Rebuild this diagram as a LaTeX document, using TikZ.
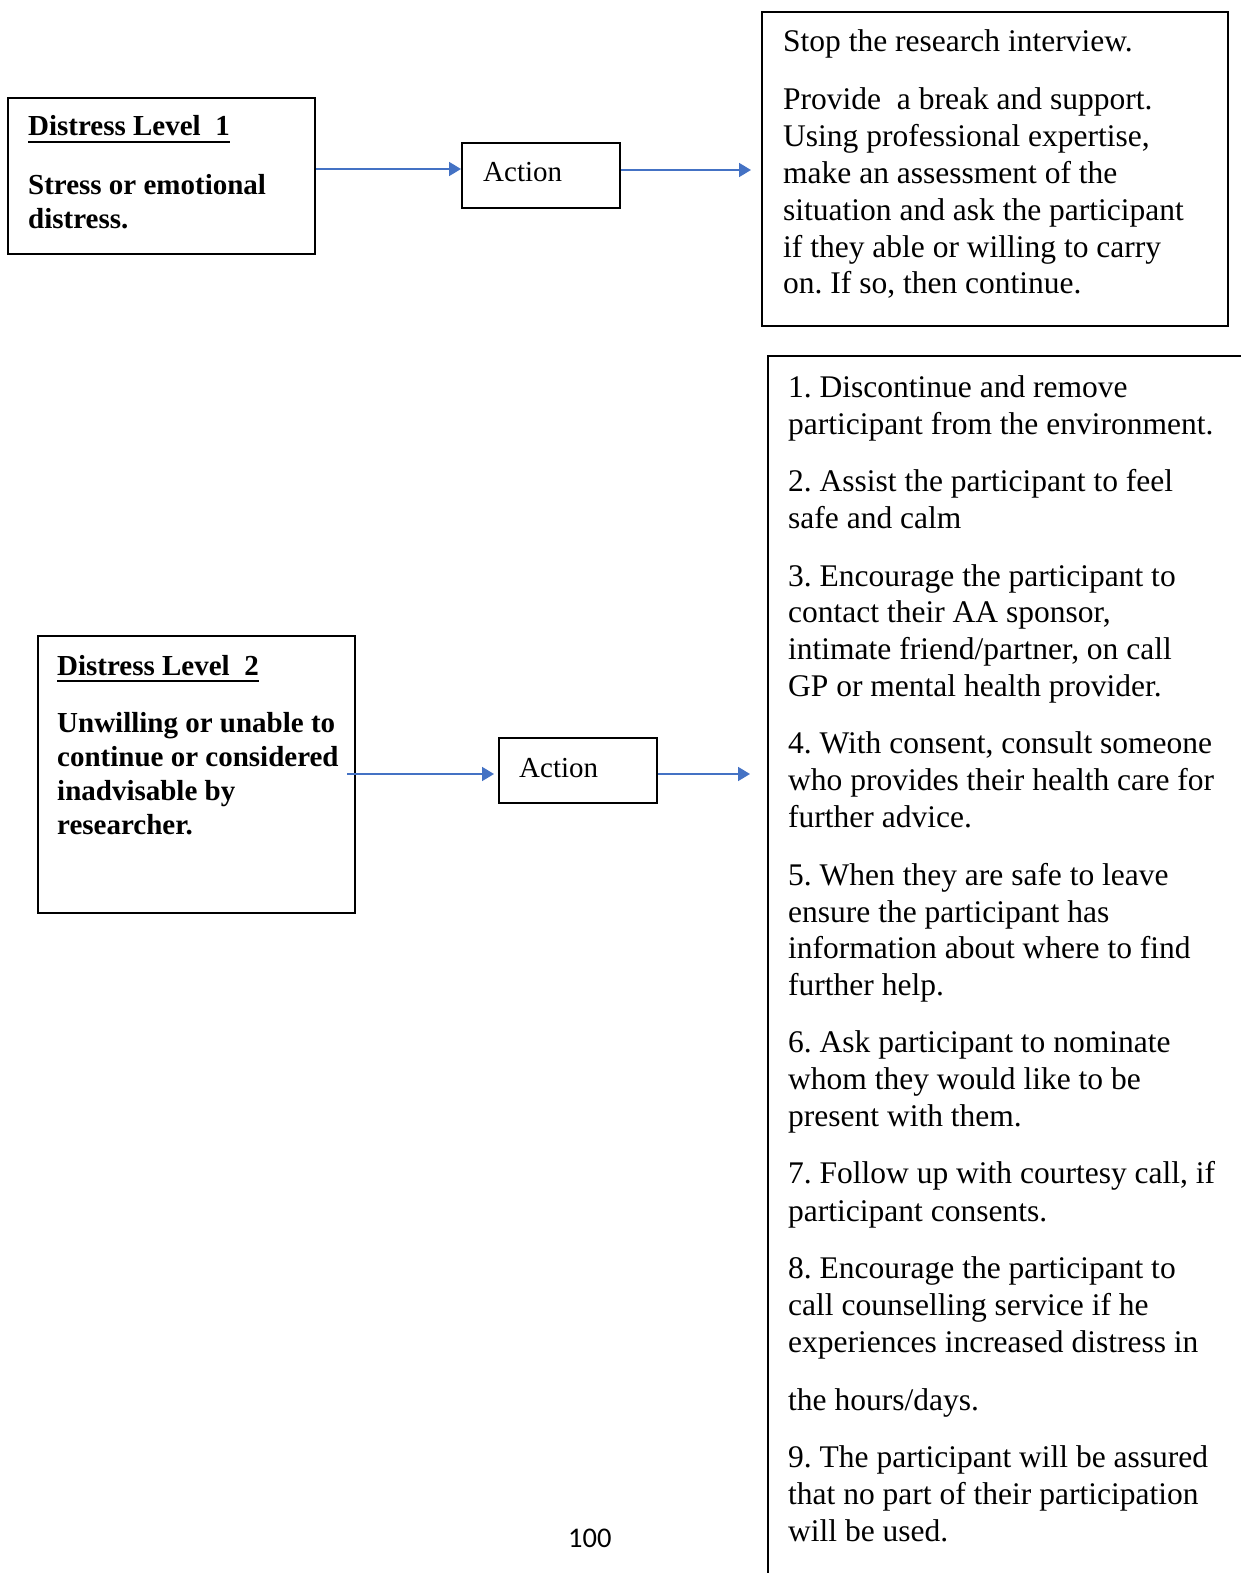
\documentclass[tikz,border=0pt]{standalone}
\usepackage{fontspec}
\setmainfont{Liberation Serif}
\newfontfamily\pnfont{Carlito}
\usetikzlibrary{arrows.meta,calc}
\definecolor{arrblue}{RGB}{68,114,196}
\frenchspacing
\begin{document}
\begin{tikzpicture}[x=1pt,y=-1pt,
  box/.style={draw=black,line width=2pt,inner sep=0pt,anchor=north west},
  txt/.style={inner sep=0pt,anchor=base west,font=\fontsize{31.5}{36.7}\selectfont\frenchspacing},
  btxt/.style={inner sep=0pt,anchor=base west,font=\fontsize{29}{34}\selectfont\bfseries\frenchspacing},
  atxt/.style={inner sep=0pt,anchor=base west,font=\fontsize{29}{34}\selectfont},
  arr/.style={draw=arrblue,line width=1.8pt,-{Triangle[length=12pt,width=14pt]}},
  uline/.style={line width=2.5pt}
]
\path[use as bounding box] (0,0) rectangle (1241,1573);
\clip (0,0) rectangle (1241,1573);
\fill[white] (0,0) rectangle (1241,1573);

% boxes
\node[box,minimum width=307,minimum height=156] (b1) at (7,97) {};
\node[box,minimum width=158,minimum height=65] (a1) at (461,142) {};
\node[box,minimum width=466,minimum height=314] (b3) at (761,11) {};
\node[box,minimum width=317,minimum height=277] (b4) at (37,635) {};
\node[box,minimum width=158,minimum height=65] (a2) at (498,737) {};
\node[box,minimum width=520,minimum height=1260] (b5) at (767,355) {};

% level 1
\node[btxt] (h1) at (28,136) {Distress Level~~1};
\draw[uline] ($(h1.base west)+(0,6)$) -- ($(h1.base east)+(0,6)$);
\node[btxt] (s1) at (28,194) {Stress or emotional};
\node[btxt] (s2) at (28,228) {distress.};
\node[atxt] (t1) at (483,182) {Action};

% top right
\node[txt] (c1) at (783,52) {Stop the research interview.};
\node[txt] (c2) at (783,110) {Provide\ \ a break and support.};
\node[txt] (c3) at (783,147) {Using professional expertise,};
\node[txt] (c4) at (783,183.5) {make an assessment of the};
\node[txt] (c5) at (783,220) {situation and ask the participant};
\node[txt] (c6) at (783,257) {if they able or willing to carry};
\node[txt] (c7) at (783,293.5) {on. If so, then continue.};

% level 2
\node[btxt] (h2) at (57,675) {Distress Level~~2};
\draw[uline] ($(h2.base west)+(0,6)$) -- ($(h2.base east)+(0,6)$);
\node[btxt] (u1) at (57,732) {Unwilling or unable to};
\node[btxt] (u2) at (57,766) {continue or considered};
\node[btxt] (u3) at (57,800) {inadvisable by};
\node[btxt] (u4) at (57,834) {researcher.};
\node[atxt] (t2) at (519,777) {Action};

% lower right list
\foreach \yy/\ttx [count=\i] in {
397/{1. Discontinue and remove},
434/{participant from the environment.},
491/{2. Assist the participant to feel},
528/{safe and calm},
586/{3. Encourage the participant to},
622/{contact their AA sponsor,},
659/{intimate friend/partner, on call},
696/{GP or mental health provider.},
753/{4. With consent, consult someone},
790/{who provides their health care for},
827/{further advice.},
885/{5. When they are safe to leave},
922/{ensure the participant has},
958/{information about where to find},
995/{further help.},
1052/{6. Ask participant to nominate},
1089/{whom they would like to be},
1126/{present with them.},
1183/{7. Follow up with courtesy call, if},
1221/{participant consents.},
1278/{8. Encourage the participant to},
1315/{call counselling service if he},
1352/{experiences increased distress in},
1410/{the hours/days.},
1467/{9. The participant will be assured},
1504/{that no part of their participation},
1541/{will be used.}}
  \node[txt] (p\i) at (788,\yy) {\ttx};

\node[inner sep=0pt,anchor=base west,font=\pnfont\fontsize{28.5}{34}\selectfont] (pg) at (568,1547) {100};

% arrows
\coordinate (y1) at (0,169);
\coordinate (y2) at (0,170);
\coordinate (y3) at (0,774);
\draw[arr] (b1.east|-y1) -- (a1.west|-y1);
\draw[arr,shorten >=10pt] (a1.east|-y2) -- (b3.west|-y2);
\draw[arr,shorten <=-9pt,shorten >=4pt] (b4.east|-y3) -- (a2.west|-y3);
\draw[arr,shorten >=17pt] (a2.east|-y3) -- (b5.west|-y3);
\end{tikzpicture}
\end{document}
